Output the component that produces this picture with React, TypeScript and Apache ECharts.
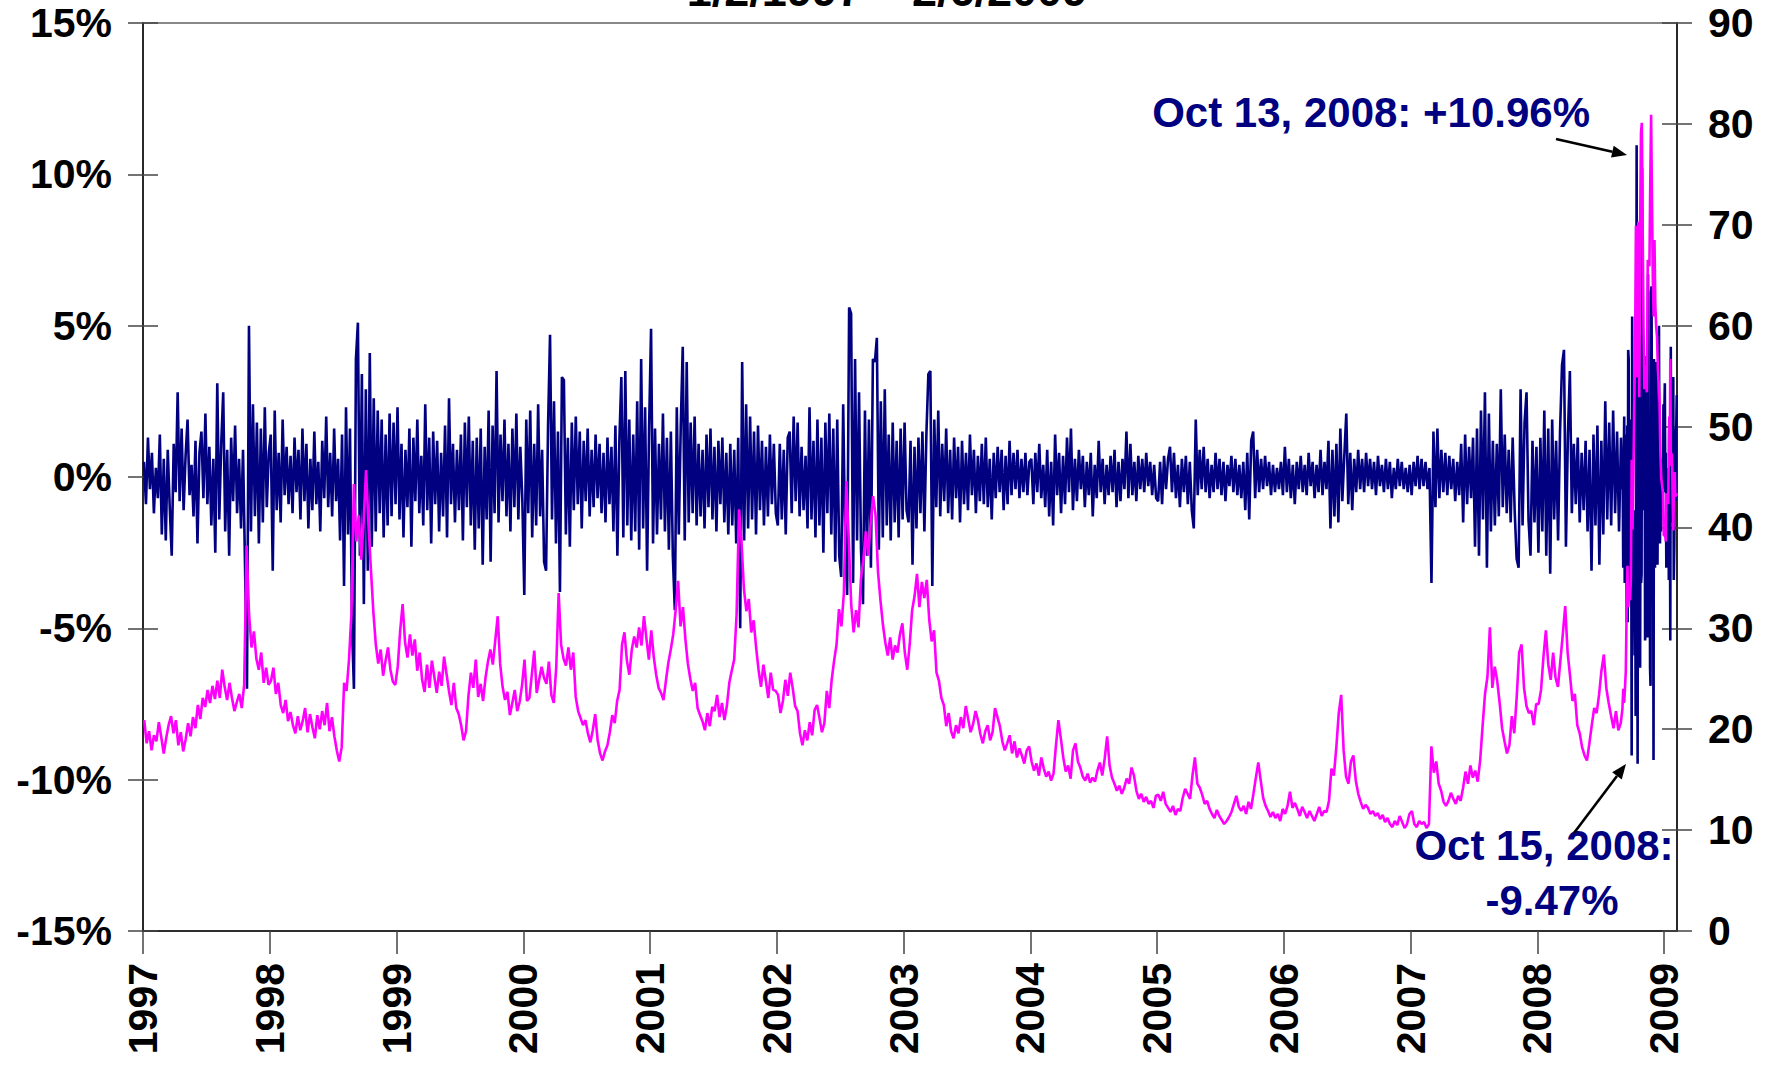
import React, { useEffect, useRef } from "react";
import * as echarts from "echarts";

// ---------- tick labels ----------
const yearTicks = [1997, 1998, 1999, 2000, 2001, 2002, 2003, 2004, 2005, 2006, 2007, 2008, 2009];

// ---------- S&P 500 daily (log) returns, %, sampled through each year ----------
const ret1997 = [0.5, -0.9, 1.3, -0.4, 0.8, -1.2, 0.3, -0.7, 1.4, -1.9, 0.6, -2.1, 0.9, -1.0, -2.6, 1.1, -0.5, 2.8, -0.8, 1.6, -1.1, 0.7, 1.9, -0.6, 0.4, -1.3, 1.2, -2.2, 0.8, 1.5, -0.7, 2.1, -0.9, 1.0, -1.6, 0.6, -2.5, 3.1, -1.4, 1.1, 2.8, -1.8, 0.9, -2.6, 1.3, -0.8, 1.7, -1.2, 0.6, -1.7, 0.9, -2.9, -7.0, 5.0, -1.8, 2.4, -1.3, 1.8, -2.2, 1.6, -1.5, 2.3, -1.0, 0.8];
const ret1998 = [1.4, -3.1, 2.2, -1.1, 0.8, -1.5, 1.9, -0.6, 1.0, -0.9, 0.7, -1.2, 1.3, -0.5, 0.9, -1.4, 1.6, -0.8, 1.1, -1.7, 0.6, -1.1, 1.5, -0.9, 0.5, -1.8, 1.2, -0.7, 2.0, -1.0, 0.8, -1.3, 1.6, -0.8, 0.6, -2.1, 1.4, -3.6, 2.3, -1.9, 1.6, -4.9, -7.0, 3.9, 5.1, -2.6, 3.4, -4.2, 2.9, -3.1, 4.1, -2.3, 2.6, -1.8, 2.2, -1.2, 1.9, -2.0, 1.4, -1.6, 2.1, -1.3, 1.8, -0.9];
const ret1999 = [2.3, -1.4, 1.1, -2.0, 0.9, -1.0, 1.6, -2.3, 1.3, -0.8, 1.9, -1.2, 0.7, -1.6, 2.4, -1.1, 1.3, -2.2, 1.5, -0.9, 1.2, -1.8, 0.8, -1.3, 1.7, -2.0, 2.6, -0.9, 1.1, -1.5, 0.9, -1.1, 1.4, -2.1, 1.8, -1.0, 2.0, -1.6, 1.2, -2.4, 1.3, -1.7, 1.6, -2.9, 1.0, -1.4, 2.2, -2.8, 1.7, -1.2, 3.5, -1.5, 1.4, -0.8, 1.9, -1.3, 1.1, -1.8, 1.6, -1.0, 2.1, -1.4, 1.0, -0.7];
const ret2000 = [-3.9, 1.9, -1.2, 2.2, -2.0, 1.1, -1.6, 2.4, -1.3, 0.9, -2.8, -3.1, 1.7, 4.7, -1.4, 2.5, -2.2, 1.5, -3.8, 3.3, 3.2, -1.9, 1.3, -2.3, 1.8, -1.1, 2.0, -0.9, 1.5, -1.7, 1.2, -0.8, 1.6, -1.3, 0.9, -1.0, 1.4, -0.7, 1.1, -1.2, 0.8, -1.5, 1.3, -0.9, 1.0, -1.8, 1.7, -2.6, 1.2, 3.3, -2.0, 3.5, -1.6, 1.9, -2.1, 1.4, -1.8, 2.5, -2.4, 3.9, -1.7, 2.3, -3.1, 1.6];
const ret2001 = [4.9, -2.2, 1.6, -1.9, 1.1, -1.4, 2.1, -1.8, 1.3, -2.4, 1.5, -2.6, -4.4, 2.3, -1.9, 1.7, 4.3, -2.1, 3.8, -1.5, 1.8, -1.2, 2.0, -1.6, 1.1, -1.3, 0.9, -1.7, 1.4, -1.0, 1.6, -1.4, 1.0, -1.8, 1.2, -0.9, 1.3, -1.5, 0.8, -1.9, 1.1, -1.6, 0.9, -2.2, 1.3, -5.0, 3.8, -2.1, 2.4, -1.7, 2.0, -1.4, 1.5, -1.9, 1.7, -1.1, 1.2, -1.6, 1.0, -1.3, 1.4, -0.9, 1.1, -1.2];
const ret2002 = [-1.6, 1.1, -1.4, 0.9, -1.9, 1.3, 1.5, -1.2, 2.0, -0.8, 1.8, -1.3, 1.0, -1.1, 0.7, -1.7, 2.3, -1.4, 1.2, -2.0, 1.9, -1.6, 1.3, -2.5, 1.8, -1.2, 2.1, -1.9, 1.6, -2.8, 1.9, -2.6, -3.3, 2.4, -2.2, -3.9, 5.6, 5.4, -3.5, 3.9, -2.1, 2.8, -2.4, -4.2, 2.2, -2.6, 1.9, -3.0, 3.9, 3.8, 4.6, -2.4, 2.5, -2.0, 2.9, -1.6, 1.4, -2.1, 1.8, -1.5, 1.2, -2.0, 1.6, -1.4];
const ret2003 = [1.8, -1.1, -1.5, 1.2, -2.9, 1.0, -1.7, 1.3, -1.2, 1.5, -1.8, 1.4, 3.4, 3.5, -3.6, 1.9, -1.0, 2.2, -1.3, 1.1, -0.8, 1.6, -1.2, 0.9, -1.4, 1.3, -0.7, 1.0, -1.5, 1.2, -0.9, 0.8, -1.1, 1.4, -0.6, 0.9, -1.2, 0.7, -0.8, 1.1, -0.9, 1.3, -1.0, 0.6, -1.4, 0.8, -0.7, 1.0, -0.5, 0.9, -1.1, 0.7, -0.9, 1.2, -0.6, 0.8, -0.4, 0.9, -0.7, 0.6, -0.5, 0.8, -0.6, 0.5];
const ret2004 = [0.6, -0.9, 0.8, -0.5, 1.1, -0.7, 0.4, -1.0, 0.9, -1.3, 0.5, -1.6, 1.4, -0.6, 0.8, -1.2, 0.7, -0.9, 1.3, -0.5, 1.6, -1.1, 0.6, -0.8, 0.9, -0.4, 0.7, -1.0, 0.5, -0.6, 0.8, -1.3, 0.4, -0.7, 1.2, -0.5, 0.6, -0.9, 0.4, -0.6, 0.7, -0.5, 0.9, -1.0, 0.5, -0.8, 0.6, -0.4, 1.5, -0.7, 1.1, -0.6, 0.5, -0.8, 0.7, -0.4, 0.6, -0.5, 0.8, -0.3, 0.5, -0.6, 0.4, -0.7];
const ret2005 = [-0.8, 0.5, -0.9, 0.7, -0.4, 0.6, 1.0, -0.5, 0.8, -0.7, 0.4, -1.0, 0.6, -0.5, 0.7, -0.9, 0.5, -1.1, -1.7, 1.9, -0.6, 0.9, -0.4, 1.0, -0.5, 0.6, -0.7, 0.4, -0.5, 0.8, -0.4, 0.6, -0.6, 0.5, -0.8, 0.4, -0.3, 0.7, -0.5, 0.6, -0.6, 0.4, -0.7, 0.5, -1.1, 0.8, -1.4, 1.2, 1.5, -0.7, 0.9, -0.5, 0.6, -0.4, 0.7, -0.3, 0.5, -0.6, 0.4, -0.5, 0.3, -0.4, 0.5, -0.6];
const ret2006 = [1.0, -0.5, 0.6, -0.7, 0.4, -0.9, 0.5, -0.4, 0.7, -0.5, 0.4, -0.6, 0.8, -0.3, 0.5, -0.7, 0.4, -0.5, 0.9, -0.6, 0.5, -0.4, 1.2, -1.7, 0.9, -1.3, 1.1, -1.5, 1.6, -0.8, 0.7, 2.1, -0.9, 0.8, -1.1, 0.6, -0.5, 0.9, -0.4, 0.6, -0.5, 0.8, -0.3, 0.6, -0.4, 0.5, -0.6, 0.7, -0.3, 0.4, -0.5, 0.6, -0.4, 0.5, -0.7, 0.3, -0.4, 0.6, -0.3, 0.5, -0.4, 0.3, -0.5, 0.4];
const ret2007 = [-0.6, 0.5, -0.3, 0.7, -0.4, 0.6, -0.3, 0.5, -0.4, 0.3, -3.5, 1.5, -1.0, 1.6, -0.7, 0.9, -0.5, 0.8, -0.6, 0.7, -0.4, 0.6, -0.8, 0.5, -0.6, 1.1, -1.5, 1.4, -0.9, 1.0, -0.7, 1.3, -2.3, 1.6, -2.6, 2.2, -1.4, 2.8, -3.0, 2.1, -1.8, 1.2, -1.6, 1.1, -1.3, 2.9, -1.0, 1.4, -1.2, 0.9, -1.5, 1.3, -1.1, -2.7, -3.0, 2.9, -1.6, 1.8, 2.8, -1.4, -2.6, 1.2, -1.5, 1.0];
const ret2008a = [-2.5, 1.3, -1.8, 2.2, -2.6, 1.6, -3.2, 1.9, -1.4, 1.2, -2.1, 1.5, 3.7, 4.2, -2.3, 1.4, 3.5, -1.2, 1.1, -0.9, 1.3, -1.5, 0.8, -1.1, 1.2, -1.8, 0.9, -3.1, 1.4, -1.6, 1.7, -2.9, 1.2, -1.9, 2.5, -1.4, 1.8, -1.6, 2.2, -1.2, 1.5, -1.8, 1.3];
const ret2008b = [-0.4, -0.2, -3.0, 0.4, 2.0, -3.5, 0.6, 1.4, 0.2, -4.8, 1.7, -4.8, 4.2, 3.9, -3.9, -1.6, -0.2, 1.9, 0.3, -9.2, 5.3, -0.5, -4.1, -1.4, -4.0, -5.9, -1.1, -7.9, -1.2, 10.96, -0.5, -9.47, 4.2, -0.6, 4.7, -3.1, -6.3, 1.3, -3.5, -3.2, 10.2, -1.1, 2.5, 1.5, -0.3, 4.0, -5.4, -5.1, 2.8, -1.3, -2.2, -5.3, 6.7, -4.3, -2.6, 1.0, -6.3, -6.9, 6.1, 6.3, 0.7, 3.5, 1.0, -9.35, 3.9, 2.6, -3.0, 3.6, 3.8, -2.3, 1.2, -2.9, 0.7, -1.3, 5.0, -1.0, -2.2, 0.3, -1.8, -1.0, 0.6, 0.5, -0.4, 2.4, 1.4];
const ret2009 = [3.1, -0.5, 0.8, -3.0, 0.3, -2.2, -2.3, 0.2, -3.4, 0.1, 0.8, -5.4, 4.3, -1.5, 0.5, 0.6, 1.1, 3.3, -3.4, -2.3, 0.0, 1.6, -0.8, 1.6, 2.7];

// ---------- VIX level, sampled through each year ----------
const vix1997 = [20.9, 18.6, 19.8, 17.9, 19.4, 18.8, 20.7, 19.2, 17.6, 19.1, 20.4, 21.3, 19.6, 20.9, 18.4, 19.7, 17.8, 19.0, 20.6, 19.3, 21.2, 20.1, 22.4, 21.0, 23.1, 22.2, 23.9, 22.6, 24.3, 23.0, 24.8, 23.1, 25.9, 24.2, 22.9, 24.6, 23.1, 21.8, 22.7, 23.5, 22.1, 24.4, 38.2, 31.4, 28.1, 29.7, 27.0, 25.9, 27.6, 24.6, 26.1, 24.4];
const vix1998 = [24.8, 26.1, 23.5, 24.6, 22.4, 21.6, 22.9, 20.8, 21.7, 20.4, 19.6, 21.3, 19.9, 20.8, 22.1, 19.7, 21.5, 20.2, 19.1, 21.4, 20.0, 21.8, 20.4, 22.6, 19.8, 21.2, 19.3, 17.9, 16.8, 18.2, 24.6, 23.8, 26.9, 31.5, 44.3, 38.6, 41.2, 36.8, 40.5, 45.7, 40.3, 35.8, 31.6, 28.4, 26.5, 27.9, 25.3, 26.8, 28.1, 25.9, 24.7, 24.4];
const vix1999 = [26.2, 29.8, 32.4, 28.6, 27.1, 29.4, 27.3, 28.9, 25.8, 27.6, 24.9, 23.7, 26.4, 24.1, 26.8, 25.2, 23.6, 25.7, 24.3, 27.2, 25.5, 23.8, 22.4, 24.6, 22.1, 21.5, 20.4, 18.9, 19.8, 23.3, 25.6, 24.1, 26.9, 23.2, 24.5, 22.8, 25.1, 26.7, 27.9, 26.4, 28.8, 31.2, 26.5, 24.2, 22.9, 23.7, 21.4, 22.6, 23.9, 21.8, 22.7, 24.4];
const vix2000 = [26.9, 22.8, 23.1, 25.4, 27.8, 23.6, 24.9, 26.2, 25.1, 24.5, 26.7, 23.4, 22.6, 26.1, 33.5, 28.4, 27.0, 26.3, 28.1, 25.9, 27.6, 23.2, 21.8, 21.1, 20.4, 20.9, 19.6, 18.7, 19.9, 21.5, 18.9, 17.6, 16.9, 17.8, 18.4, 19.7, 21.4, 20.6, 22.8, 23.9, 28.4, 29.6, 26.8, 25.4, 27.9, 29.2, 28.1, 30.1, 28.3, 31.2, 29.0, 26.9];
const vix2001 = [29.8, 27.2, 25.4, 24.1, 23.6, 22.9, 24.8, 26.6, 27.9, 29.4, 31.8, 34.7, 30.2, 32.1, 28.9, 26.5, 25.0, 23.8, 24.6, 22.1, 21.4, 20.8, 19.9, 21.6, 20.3, 22.2, 21.8, 23.4, 21.2, 22.6, 20.9, 22.3, 24.6, 25.8, 26.9, 31.4, 41.8, 38.6, 33.9, 31.7, 32.9, 29.6, 30.8, 28.1, 25.9, 24.2, 26.4, 24.8, 23.1, 25.6, 23.9, 23.8];
const vix2002 = [23.4, 21.6, 22.8, 24.9, 23.3, 25.6, 24.1, 22.3, 21.8, 19.6, 18.4, 19.9, 18.9, 20.7, 19.4, 21.9, 22.4, 21.1, 19.7, 20.6, 23.8, 22.1, 24.9, 26.8, 28.4, 31.9, 30.2, 33.5, 44.6, 38.9, 32.4, 29.6, 31.8, 30.1, 34.9, 36.8, 39.6, 37.2, 40.4, 43.1, 41.2, 35.6, 32.8, 30.4, 28.6, 27.3, 29.1, 26.9, 28.3, 27.6, 29.4, 30.5];
const vix2003 = [27.6, 25.9, 28.4, 31.8, 33.2, 35.4, 32.1, 34.6, 33.0, 34.8, 30.9, 28.7, 29.8, 25.6, 24.8, 23.1, 22.4, 20.3, 21.6, 19.8, 19.1, 20.4, 19.6, 21.2, 20.1, 22.3, 21.0, 19.7, 20.5, 21.8, 20.9, 19.5, 18.6, 19.8, 20.4, 18.9, 19.7, 22.1, 21.2, 20.3, 18.8, 17.9, 18.6, 19.4, 17.6, 18.8, 17.2, 18.1, 17.4, 16.6, 17.9, 18.3];
const vix2004 = [16.8, 15.9, 16.6, 15.4, 17.2, 16.1, 15.3, 15.8, 14.9, 15.6, 18.4, 20.9, 19.1, 17.2, 15.8, 16.4, 15.1, 17.9, 18.6, 16.8, 16.2, 15.3, 14.9, 15.6, 14.7, 15.2, 14.8, 15.9, 16.7, 15.4, 17.1, 19.3, 16.4, 15.2, 14.6, 13.9, 14.4, 13.6, 14.2, 15.1, 14.6, 16.2, 15.4, 13.9, 13.1, 13.6, 12.8, 13.3, 12.6, 12.9, 12.2, 13.4];
const vix2005 = [13.5, 12.9, 13.8, 12.6, 12.2, 11.8, 12.4, 11.5, 12.1, 11.9, 13.2, 14.1, 13.6, 13.1, 15.4, 17.2, 14.6, 14.2, 13.5, 12.6, 12.9, 12.1, 11.6, 11.2, 12.0, 11.4, 11.0, 10.6, 10.9, 11.3, 11.8, 12.6, 13.4, 12.3, 11.9, 12.4, 11.6, 12.8, 12.1, 13.6, 15.2, 16.7, 14.9, 13.2, 12.4, 11.9, 11.3, 11.8, 11.2, 11.6, 10.9, 12.1];
const vix2006 = [11.6, 12.4, 13.8, 12.2, 12.7, 12.1, 11.4, 12.3, 11.8, 11.2, 11.9, 11.4, 10.9, 11.6, 12.3, 11.4, 11.9, 11.8, 12.9, 16.1, 15.4, 18.2, 21.6, 23.4, 17.9, 15.3, 14.6, 16.8, 17.4, 14.9, 13.6, 12.8, 12.1, 12.5, 12.2, 11.6, 11.9, 11.4, 11.7, 11.1, 11.5, 10.8, 11.2, 10.6, 10.3, 10.9, 10.5, 11.4, 10.8, 10.2, 10.6, 11.6];
const vix2007 = [11.9, 10.6, 10.3, 10.9, 10.6, 10.8, 10.2, 10.6, 18.3, 15.7, 16.8, 14.6, 13.9, 12.8, 12.4, 12.9, 13.7, 13.1, 12.6, 13.4, 12.9, 14.2, 15.8, 14.6, 16.4, 15.2, 15.9, 14.8, 16.9, 20.3, 23.5, 25.2, 30.1, 24.1, 26.2, 24.8, 22.6, 20.1, 18.8, 17.6, 18.4, 21.3, 19.6, 23.2, 27.6, 28.4, 24.1, 22.3, 21.6, 21.8, 20.4, 22.5];
const vix2008a = [22.5, 23.9, 27.2, 29.8, 26.4, 24.9, 27.6, 25.1, 24.2, 26.8, 29.4, 32.2, 27.6, 25.3, 22.8, 23.5, 20.4, 19.6, 18.2, 17.4, 16.9, 18.6, 20.4, 22.1, 21.6, 23.4, 25.8, 27.4, 24.1, 22.6, 21.3, 20.1, 21.8, 19.9, 20.6];
const vix2008b = [22.0, 24.0, 22.6, 24.0, 25.7, 31.7, 36.2, 32.1, 33.9, 32.8, 34.7, 46.7, 39.8, 45.1, 52.1, 57.5, 69.9, 54.9, 69.3, 70.3, 52.9, 69.7, 79.1, 80.1, 69.9, 59.9, 53.7, 54.6, 56.1, 53.4, 66.5, 66.3, 65.9, 74.3, 80.9, 72.7, 64.7, 60.9, 68.5, 62.0, 59.9, 58.9, 55.7, 54.3, 52.4, 47.3, 44.9, 44.2, 43.4, 39.2];
const vix2009 = [39.2, 39.1, 38.6, 43.4, 42.8, 42.8, 43.3, 42.3, 49.0, 51.0, 46.1, 56.7, 47.3, 47.3, 47.3, 45.7, 42.3, 39.7, 42.6, 44.8, 45.5, 43.1, 43.1, 43.2, 43.4];

// period boundaries (fractional years)
const SEP1_2008 = 2008.667;
const JAN2_2009 = 2009.003;
const FEB6_2009 = 2009.101;

const retSegments = [
  { from: 1997, to: 1998, values: ret1997 },
  { from: 1998, to: 1999, values: ret1998 },
  { from: 1999, to: 2000, values: ret1999 },
  { from: 2000, to: 2001, values: ret2000 },
  { from: 2001, to: 2002, values: ret2001 },
  { from: 2002, to: 2003, values: ret2002 },
  { from: 2003, to: 2004, values: ret2003 },
  { from: 2004, to: 2005, values: ret2004 },
  { from: 2005, to: 2006, values: ret2005 },
  { from: 2006, to: 2007, values: ret2006 },
  { from: 2007, to: 2008, values: ret2007 },
  { from: 2008, to: SEP1_2008, values: ret2008a },
  { from: SEP1_2008, to: 2009, values: ret2008b },
  { from: JAN2_2009, to: FEB6_2009, values: ret2009 },
];

const vixSegments = [
  { from: 1997, to: 1998, values: vix1997 },
  { from: 1998, to: 1999, values: vix1998 },
  { from: 1999, to: 2000, values: vix1999 },
  { from: 2000, to: 2001, values: vix2000 },
  { from: 2001, to: 2002, values: vix2001 },
  { from: 2002, to: 2003, values: vix2002 },
  { from: 2003, to: 2004, values: vix2003 },
  { from: 2004, to: 2005, values: vix2004 },
  { from: 2005, to: 2006, values: vix2005 },
  { from: 2006, to: 2007, values: vix2006 },
  { from: 2007, to: 2008, values: vix2007 },
  { from: 2008, to: SEP1_2008, values: vix2008a },
  { from: SEP1_2008, to: 2009, values: vix2008b },
  { from: JAN2_2009, to: FEB6_2009, values: vix2009 },
];

function buildSeries(segments: { from: number; to: number; values: number[] }[]) {
  const out: [number, number][] = [];
  for (const s of segments) {
    const n = s.values.length;
    const step = (s.to - s.from) / n;
    s.values.forEach((v, i) => out.push([s.from + (i + 0.5) * step, v]));
  }
  return out;
}

const FONT = "'Liberation Sans', Arial, Helvetica, sans-serif";

function arrow(x1: number, y1: number, x2: number, y2: number) {
  const ang = Math.atan2(y2 - y1, x2 - x1);
  const L = 15;
  const W = 6;
  const bx = x2 - L * Math.cos(ang);
  const by = y2 - L * Math.sin(ang);
  const px = -Math.sin(ang) * W;
  const py = Math.cos(ang) * W;
  return [
    { type: "line", z: 100, shape: { x1, y1, x2: bx, y2: by }, style: { stroke: "#000", lineWidth: 2.6 } },
    {
      type: "polygon",
      z: 100,
      shape: { points: [[x2, y2], [bx + px, by + py], [bx - px, by - py]] },
      style: { fill: "#000" },
    },
  ];
}

function annText(text: string, x: number, y: number, align: string, color: string, size: number) {
  return {
    type: "text",
    z: 100,
    x,
    y,
    style: {
      text,
      fill: color,
      fontSize: size,
      fontWeight: "bold",
      fontFamily: FONT,
      textAlign: align,
      textVerticalAlign: "middle",
    },
  };
}

export default function App() {
  const ref = useRef<HTMLDivElement>(null);

  useEffect(() => {
    if (!ref.current) return;
    const chart = echarts.init(ref.current, null, { renderer: "svg" });

    const labelStyle = { fontSize: 41, fontWeight: "bold", color: "#000", fontFamily: FONT };
    const tickLine = { color: "#444", width: 1.5 };

    const option = {
      animation: false,
      backgroundColor: "#fff",
      grid: {
        left: 143,
        right: 105,
        top: 23,
        bottom: 134,
        show: true,
        borderColor: "#888",
        borderWidth: 2,
        containLabel: false,
      },
      xAxis: {
        type: "value",
        min: 1997,
        max: FEB6_2009,
        interval: 1,
        axisLine: { show: true, onZero: false, lineStyle: { color: "#111", width: 1.6 } },
        axisTick: { show: true, inside: false, length: 23, lineStyle: tickLine, customValues: yearTicks },
        axisLabel: {
          ...labelStyle,
          rotate: 90,
          margin: 32,
          customValues: yearTicks,
          formatter: (v: number) => String(Math.round(v)),
        },
        splitLine: { show: false },
      },
      yAxis: [
        {
          type: "value",
          position: "left",
          min: -15,
          max: 15,
          interval: 5,
          axisLine: { show: true, onZero: false, lineStyle: { color: "#111", width: 1.6 } },
          axisTick: { show: true, inside: false, length: 15, lineStyle: tickLine },
          axisLabel: { ...labelStyle, margin: 31, formatter: "{value}%" },
          splitLine: { show: false },
        },
        {
          type: "value",
          position: "left",
          min: -15,
          max: 15,
          interval: 5,
          axisLine: { show: false, onZero: false },
          axisTick: { show: true, inside: true, length: 15, lineStyle: tickLine },
          axisLabel: { show: false },
          splitLine: { show: false },
        },
        {
          type: "value",
          position: "right",
          min: 0,
          max: 90,
          interval: 10,
          axisLine: { show: true, onZero: false, lineStyle: { color: "#111", width: 1.6 } },
          axisTick: { show: true, inside: false, length: 15, lineStyle: tickLine },
          axisLabel: { ...labelStyle, margin: 31 },
          splitLine: { show: false },
        },
        {
          type: "value",
          position: "right",
          min: 0,
          max: 90,
          interval: 10,
          axisLine: { show: false, onZero: false },
          axisTick: { show: true, inside: true, length: 15, lineStyle: tickLine },
          axisLabel: { show: false },
          splitLine: { show: false },
        },
      ],
      series: [
        {
          name: "S&P 500 daily return",
          type: "line",
          yAxisIndex: 0,
          data: buildSeries(retSegments),
          symbol: "none",
          showSymbol: false,
          silent: true,
          lineStyle: { color: "#000080", width: 2.6, join: "miter", miterLimit: 2 },
          z: 2,
        },
        {
          name: "VIX",
          type: "line",
          yAxisIndex: 2,
          data: buildSeries(vixSegments),
          symbol: "none",
          showSymbol: false,
          silent: true,
          lineStyle: { color: "#FF00FF", width: 2.6 },
          z: 3,
        },
      ],
      graphic: [
        annText("1/2/1997 \u2013 2/6/2009", 887, -10, "center", "#000", 45),
        annText("Oct 13, 2008: +10.96%", 1590, 112, "right", "#000080", 42),
        annText("Oct 15, 2008:", 1544, 845, "center", "#000080", 42),
        annText("-9.47%", 1552, 900, "center", "#000080", 42),
        ...arrow(1556, 139, 1627, 155),
        ...arrow(1574, 833, 1626, 764),
      ],
    };

    chart.setOption(option as any);
    return () => chart.dispose();
  }, []);

  return (
    <div
      ref={ref}
      style={{ position: "fixed", left: 0, top: 0, width: 1782, height: 1065, background: "#fff" }}
    />
  );
}
